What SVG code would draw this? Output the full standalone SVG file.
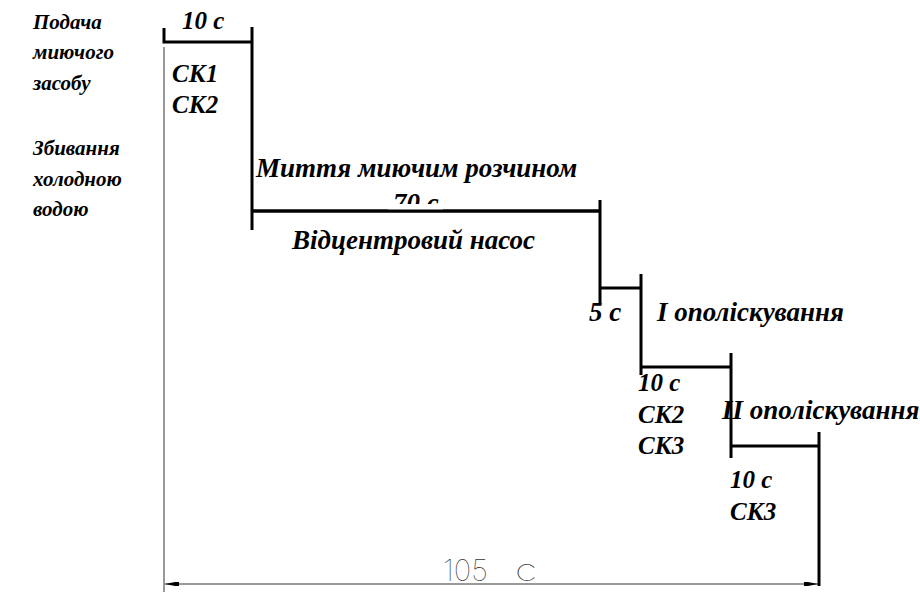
<svg xmlns="http://www.w3.org/2000/svg" width="920" height="592" viewBox="0 0 920 592">
<defs>
<style>
.t{font-family:"Liberation Serif","Times New Roman",serif;font-weight:bold;font-style:italic;font-size:21px;fill:#000}
.m{font-size:25px}
.b{font-size:27px}
.s{stroke:#000;stroke-width:3;fill:none;stroke-linecap:butt}
.thin{stroke:#000;stroke-width:0.8;fill:none}
.dim{font-family:Inter,"Liberation Sans",Arial,sans-serif;font-weight:100;font-size:30px;fill:#333}
</style>
<marker id="ah" viewBox="0 0 14 6" refX="14" refY="3" markerWidth="14" markerHeight="6" markerUnits="userSpaceOnUse" orient="auto-start-reverse">
<path d="M0,1 L4,1 L14,3 L4,5 L0,5 Z" fill="#000"/>
</marker>
</defs>
<rect width="920" height="592" fill="#fff"/>
<g id="labels-left">
<text class="t" x="33" y="29">Подача</text>
<text class="t" x="33" y="59">миючого</text>
<text class="t" x="33" y="90">засобу</text>
<text class="t" x="33" y="155">Збивання</text>
<text class="t" x="33" y="186">холодною</text>
<text class="t" x="33" y="216">водою</text>
</g>
<g id="connectors">
<line class="thin" x1="164" y1="47" x2="164" y2="592"/>
<path class="s" d="M164,28 V42 H252 M252,27 V230 M252,211 H600 M600,200 V303 M600,288 H641 M641,274 V375 M641,367 H731 M731,353 V458 M731,446 H819 M819,432 V586"/>
<line class="thin" x1="165" y1="584" x2="818" y2="584" marker-start="url(#ah)" marker-end="url(#ah)"/>
</g>
<g id="step1">
<text class="t m" x="182" y="29">10 с</text>
<text class="t m" x="172" y="82">СК1</text>
<text class="t m" x="172" y="113">СК2</text>
</g>
<g id="step2">
<text class="t b" x="256" y="177">Миття миючим розчином</text>
<text class="t b" x="393" y="212">70 с</text>
<rect x="388" y="204" width="55" height="6" fill="#fff"/>
<line class="s" x1="252" y1="211" x2="600" y2="211"/>
<text class="t b" x="292" y="249">Відцентровий насос</text>
</g>
<g id="step3">
<text class="t b" x="589" y="321">5 с</text>
<text class="t b" x="657" y="321">I ополіскування</text>
</g>
<g id="step4">
<text class="t m" x="638" y="391">10 с</text>
<text class="t m" x="638" y="423">СК2</text>
<text class="t m" x="638" y="454">СК3</text>
<text class="t b" x="722" y="419">II ополіскування</text>
</g>
<g id="step5">
<text class="t m" x="730" y="488">10 с</text>
<text class="t m" x="730" y="520">СК3</text>
</g>
<g id="dimension">
<text class="dim" x="443" y="581" textLength="45" lengthAdjust="spacingAndGlyphs">105</text>
<text class="dim" x="515" y="581" textLength="22" lengthAdjust="spacingAndGlyphs">с</text>
</g>
</svg>
